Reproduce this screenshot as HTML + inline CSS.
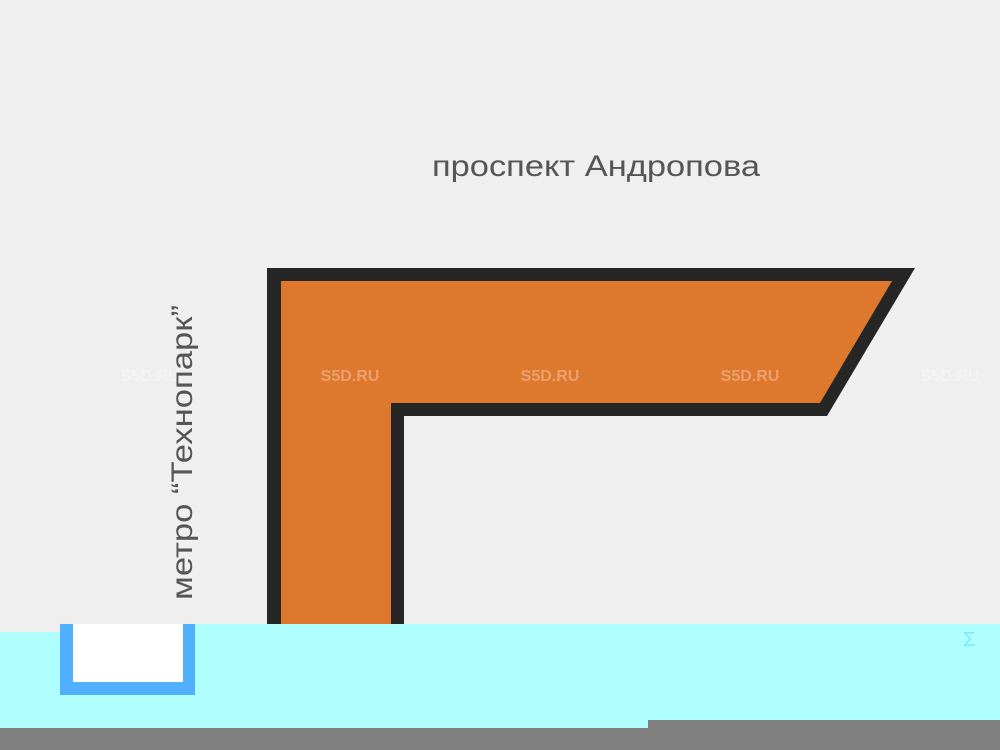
<!DOCTYPE html>
<html><head><meta charset="utf-8"><style>
html,body{margin:0;padding:0;background:#efefef;}
svg{display:block;}
</style></head><body>
<svg width="1000" height="750" viewBox="0 0 1000 750" xmlns="http://www.w3.org/2000/svg">
<rect width="1000" height="750" fill="#efefef"/>
<polygon points="267,268 915,268 827,416 404,416 404,640 267,640" fill="#262626"/>
<polygon points="281,281 892,281 820,403 391,403 391,640 281,640" fill="#de782d"/>
<g font-family="Liberation Sans, sans-serif" font-weight="bold" font-size="16" fill="#ffffff" fill-opacity="0.3" text-anchor="middle">
<text x="150" y="381">S5D.RU</text>
<text x="350" y="381">S5D.RU</text>
<text x="550" y="381">S5D.RU</text>
<text x="750" y="381">S5D.RU</text>
<text x="950" y="381">S5D.RU</text>
</g>
<text x="432" y="176" font-family="Liberation Sans, sans-serif" font-size="30" fill="#555" textLength="328" lengthAdjust="spacingAndGlyphs">проспект Андропова</text>
<text transform="translate(192,600) rotate(-90)" font-family="Liberation Sans, sans-serif" font-size="30" fill="#555" textLength="295" lengthAdjust="spacingAndGlyphs">метро “Технопарк”</text>
<rect x="0" y="750" width="0" height="0"/>
<rect x="0" y="624" width="1000" height="104" fill="#b0ffff"/>
<rect x="0" y="624" width="88" height="8" fill="#efefef"/>
<rect x="648" y="720" width="352" height="8" fill="#808080"/>
<rect x="0" y="728" width="1000" height="22" fill="#808080"/>
<rect x="60" y="624" width="135" height="71" fill="#50b0ff"/>
<rect x="73" y="624" width="110" height="58" fill="#ffffff"/>
<text x="963" y="646" font-family="Liberation Sans, sans-serif" font-size="20" fill="#7ce8ff">Σ</text>
</svg>
</body></html>
